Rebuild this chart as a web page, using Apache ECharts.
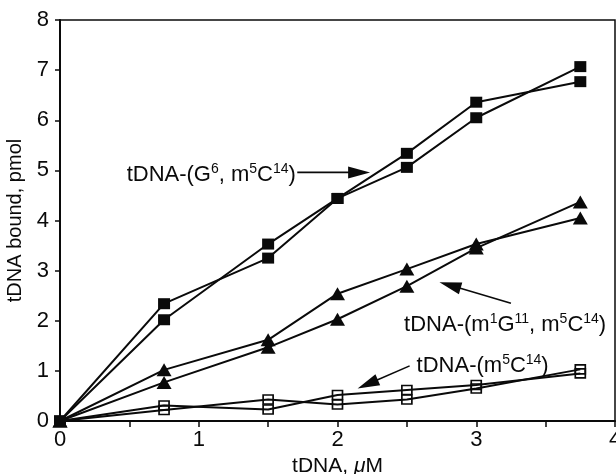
<!DOCTYPE html>
<html><head><meta charset="utf-8">
<script src="https://cdn.jsdelivr.net/npm/echarts@6/dist/echarts.min.js"></script>
<style>html,body{margin:0;padding:0;background:#fff}#c{width:616px;height:474px}</style>
</head><body><div id="c"></div>
<script>
// ---- data ----
const xValues = [0, 0.75, 1.5, 2, 2.5, 3, 3.75];
const g6A  = [0, 2.34, 3.25, 4.44, 5.06, 6.05, 7.07];
const g6B  = [0, 2.02, 3.53, 4.44, 5.34, 6.36, 6.77];
const m1gA = [0, 1.02, 1.62, 2.54, 3.03, 3.53, 4.05];
const m1gB = [0, 0.77, 1.47, 2.03, 2.69, 3.45, 4.37];
const m5cA = [0, 0.22, 0.43, 0.33, 0.43, 0.65, 1.03];
const m5cB = [0, 0.31, 0.23, 0.52, 0.62, 0.72, 0.95];
const xTickLabels = ['0', '1', '2', '3', '4'];
const yTickLabels = ['0', '1', '2', '3', '4', '5', '6', '7', '8'];
const xTitle = '{n|tDNA, }{i|\u03bc}{n|M}';
const yTitle = 'tDNA bound, pmol';
const labelG6 = '{n|tDNA-(G}{s|6}{n|, m}{s|5}{n|C}{s|14}{n|)}';
const labelM1G = '{n|tDNA-(m}{s|1}{n|G}{s|11}{n|, m}{s|5}{n|C}{s|14}{n|)}';
const labelM5C = '{n|tDNA-(m}{s|5}{n|C}{s|14}{n|)}';

const FONT = '"Liberation Sans", Arial, Helvetica, sans-serif';
const INK = '#0a0a0a';
const pairs = ys => xValues.map((x, i) => [x, ys[i]]);

function lineSeries(ys, kind) {
  const s = {
    type: 'line', data: pairs(ys), z: 3,
    lineStyle: { color: INK, width: 2 },
    emphasis: { disabled: true }
  };
  if (kind === 'sq') { s.symbol = 'rect'; s.symbolSize = [12, 11]; s.itemStyle = { color: INK }; }
  if (kind === 'tri') { s.symbol = 'triangle'; s.symbolSize = [15, 13]; s.itemStyle = { color: INK }; }
  if (kind === 'open') { s.symbol = 'rect'; s.symbolSize = [10, 9]; s.itemStyle = { color: 'rgba(255,255,255,0)', borderColor: INK, borderWidth: 1.6 }; }
  return s;
}

const richSup = {
  n: { fontSize: 22, fontFamily: FONT, fill: INK, color: INK, lineHeight: 26, verticalAlign: 'middle' },
  s: { fontSize: 14, fontFamily: FONT, fill: INK, color: INK, lineHeight: 26, verticalAlign: 'top' },
  i: { fontSize: 22, fontFamily: FONT, fill: INK, color: INK, fontStyle: 'italic', lineHeight: 26, verticalAlign: 'middle' }
};

const chart = echarts.init(document.getElementById('c'), null, { renderer: 'canvas' });
chart.setOption({
  animation: false,
  backgroundColor: '#fff',
  grid: { left: 60, right: 1, top: 20, bottom: 53, containLabel: false, outerBoundsMode: 'none',
          show: true, borderColor: INK, borderWidth: 1.5, backgroundColor: 'transparent' },
  xAxis: {
    type: 'value', min: 0, max: 4, interval: 0.5,
    axisLine: { lineStyle: { color: INK, width: 2 } },
    axisTick: { show: true, length: 6, lineStyle: { color: INK, width: 1.5 } },
    splitLine: { show: false },
    axisLabel: {
      showMinLabel: true, showMaxLabel: true, hideOverlap: false,
      fontSize: 22, color: INK, fontFamily: FONT, margin: 8,
      formatter: v => (Math.abs(v - Math.round(v)) < 1e-9 ? xTickLabels[Math.round(v)] : '')
    },
    name: xTitle, nameLocation: 'middle', nameGap: 34,
    nameTextStyle: { rich: { n: { fontSize: 21, fontFamily: FONT, color: INK }, i: { fontSize: 21, fontFamily: FONT, color: INK, fontStyle: 'italic' } } }
  },
  yAxis: {
    type: 'value', min: 0, max: 8, interval: 1,
    axisLine: { show: true, lineStyle: { color: INK, width: 2 } },
    axisTick: { show: true, length: 5, lineStyle: { color: INK, width: 1.5 } },
    splitLine: { show: false },
    axisLabel: {
      fontSize: 22, color: INK, fontFamily: FONT, margin: 11,
      formatter: v => yTickLabels[Math.round(v)]
    },
    name: yTitle, nameLocation: 'middle', nameGap: 32, nameRotate: 90,
    nameTextStyle: { fontSize: 20, fontFamily: FONT, color: INK }
  },
  series: [
    lineSeries(m5cA, 'open'), lineSeries(m5cB, 'open'),
    lineSeries(m1gA, 'tri'), lineSeries(m1gB, 'tri'),
    lineSeries(g6A, 'sq'), lineSeries(g6B, 'sq')
  ]
});

// ---- annotations (anchored in data units) ----
const annotations = [
  { text: labelG6,  at: [1.70, 4.91], align: 'right', from: [1.71, 4.96], to: [2.235, 4.96] },
  { text: labelM1G, at: [2.48, 1.92], align: 'left',  from: [3.25, 2.35], to: [2.735, 2.77] },
  { text: labelM5C, at: [2.57, 1.10], align: 'left',  from: [2.52, 1.10], to: [2.145, 0.65] }
];
const g = [];
annotations.forEach(a => {
  const t = chart.convertToPixel({ gridIndex: 0 }, a.at);
  g.push({ type: 'text', x: t[0], y: t[1], z: 10,
    style: { text: a.text, rich: richSup, align: a.align, verticalAlign: 'middle', fill: INK } });
  const p1 = chart.convertToPixel({ gridIndex: 0 }, a.from);
  const p2 = chart.convertToPixel({ gridIndex: 0 }, a.to);
  const dx = p2[0] - p1[0], dy = p2[1] - p1[1], len = Math.hypot(dx, dy);
  const ux = dx / len, uy = dy / len, nx = -uy, ny = ux;
  const L = 22, W = 6;
  const bx = p2[0] - ux * L, by = p2[1] - uy * L;
  g.push({ type: 'line', z: 10, shape: { x1: p1[0], y1: p1[1], x2: bx + ux * 2, y2: by + uy * 2 },
    style: { stroke: INK, lineWidth: 1.6 } });
  g.push({ type: 'polygon', z: 10, shape: { points: [[p2[0], p2[1]], [bx + nx * W, by + ny * W], [bx - nx * W, by - ny * W]] },
    style: { fill: INK } });
});
chart.setOption({ graphic: g });
</script>
</body></html>
